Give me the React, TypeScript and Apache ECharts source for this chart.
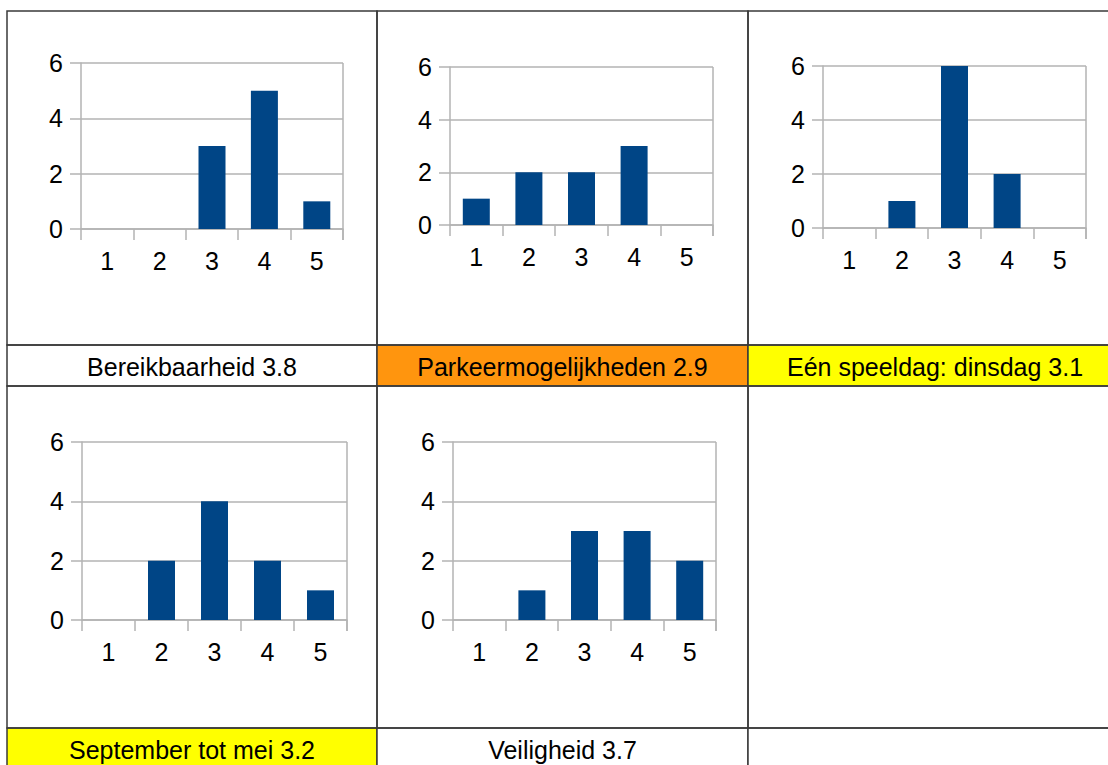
import React, { useEffect, useRef } from "react";
import * as echarts from "echarts";

const categories = ["1", "2", "3", "4", "5"];
const bereikbaarheid = [0, 0, 3, 5, 1];
const parkeermogelijkheden = [1, 2, 2, 3, 0];
const speeldag = [0, 1, 6, 2, 0];
const septemberMei = [0, 2, 4, 2, 1];
const veiligheid = [0, 1, 3, 3, 2];
const seriesValues = [bereikbaarheid, parkeermogelijkheden, speeldag, septemberMei, veiligheid];
const captions = [
  "Bereikbaarheid 3.8",
  "Parkeermogelijkheden 2.9",
  "Eén speeldag: dinsdag 3.1",
  "September tot mei 3.2",
  "Veiligheid 3.7",
  "",
];
const yMin = 0;
const yMax = 6;
const yInterval = 2;

// layout (page coordinates)
const grids = [
  { left: 81, top: 63, width: 262, height: 166 },
  { left: 450, top: 67, width: 263, height: 158 },
  { left: 823, top: 66, width: 263, height: 162 },
  { left: 82, top: 442, width: 265, height: 178 },
  { left: 453, top: 442, width: 263, height: 178 },
];
const colX = [7, 377, 748, 1122];
const rowY = [11, 345, 386, 728, 770];
const captionFills = ["#ffffff", "#ff950e", "#ffff00", "#ffff00", "#ffffff", "#ffffff"];

const FONT = "'Liberation Sans', Arial, sans-serif";
const BAR = "#004586";
const AXIS = "#b3b3b3";
const BORDER = "#3a3a3a";

export default function App() {
  const ref = useRef<HTMLDivElement>(null);
  useEffect(() => {
    if (!ref.current) return;
    const chart = echarts.init(ref.current, null, { renderer: "svg" });

    const graphic: any[] = [];
    // caption cells
    for (let r = 0; r < 2; r++) {
      for (let c = 0; c < 3; c++) {
        const idx = r * 3 + c;
        const y0 = rowY[r * 2 + 1];
        const y1 = rowY[r * 2 + 2];
        graphic.push({
          type: "rect",
          shape: { x: colX[c], y: y0, width: colX[c + 1] - colX[c], height: y1 - y0 },
          style: { fill: captionFills[idx], stroke: BORDER, lineWidth: 1.5 },
          z: 1,
        });
        graphic.push({
          type: "text",
          x: (colX[c] + colX[c + 1]) / 2,
          y: (y0 + y1) / 2 + 1,
          style: {
            text: captions[idx],
            font: `25px ${FONT}`,
            fill: "#000",
            align: "center",
            verticalAlign: "middle",
          },
          z: 2,
        });
      }
    }
    // chart cells borders
    for (let r = 0; r < 2; r++) {
      for (let c = 0; c < 3; c++) {
        const y0 = rowY[r * 2];
        const y1 = rowY[r * 2 + 1];
        graphic.push({
          type: "rect",
          shape: { x: colX[c], y: y0, width: colX[c + 1] - colX[c], height: y1 - y0 },
          style: { fill: "none", stroke: BORDER, lineWidth: 1.5 },
          z: 1,
        });
      }
    }
    // right edge of each plot area
    grids.forEach((g) => {
      graphic.push({
        type: "line",
        shape: { x1: g.left + g.width, y1: g.top, x2: g.left + g.width, y2: g.top + g.height + 11 },
        style: { stroke: AXIS, lineWidth: 1.5 },
        z: 0,
      });
    });

    const option: any = {
      animation: false,
      backgroundColor: "#ffffff",
      textStyle: { fontFamily: FONT },
      grid: grids.map((g) => ({ ...g, containLabel: false })),
      xAxis: grids.map((_, i) => ({
        type: "category",
        gridIndex: i,
        data: categories,
        boundaryGap: true,
        axisLine: { show: true, lineStyle: { color: AXIS, width: 1.5 } },
        axisTick: { show: true, length: 11, alignWithLabel: false, lineStyle: { color: AXIS, width: 1.5 } },
        axisLabel: { color: "#000", fontSize: 25, fontFamily: FONT, margin: 19 },
        splitLine: { show: false },
      })),
      yAxis: grids.map((_, i) => ({
        type: "value",
        gridIndex: i,
        min: yMin,
        max: yMax,
        interval: yInterval,
        axisLine: { show: true, lineStyle: { color: AXIS, width: 1.5 } },
        axisTick: { show: true, length: 11, lineStyle: { color: AXIS, width: 1.5 } },
        axisLabel: { color: "#000", fontSize: 25, fontFamily: FONT, margin: 18 },
        splitLine: { show: true, lineStyle: { color: AXIS, width: 1.5 } },
      })),
      series: seriesValues.map((vals, i) => ({
        type: "bar",
        xAxisIndex: i,
        yAxisIndex: i,
        data: vals,
        barWidth: 27,
        itemStyle: { color: BAR },
      })),
      graphic,
    };

    chart.setOption(option);
    return () => chart.dispose();
  }, []);

  return (
    <div
      ref={ref}
      style={{ position: "fixed", left: 0, top: 0, width: 1108, height: 765, background: "#fff" }}
    />
  );
}
